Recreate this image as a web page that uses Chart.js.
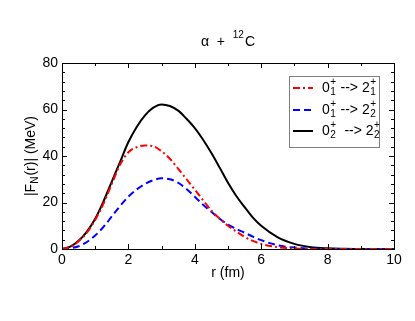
<!DOCTYPE html>
<html>
<head>
<meta charset="utf-8">
<script src="https://cdn.jsdelivr.net/npm/chart.js@4.4.1/dist/chart.umd.min.js"></script>
<style>
  html, body { margin: 0; padding: 0; background: #fff; }
  #wrap { width: 415px; height: 321px; }
</style>
</head>
<body>
<div id="wrap"><canvas id="chart" width="415" height="321"></canvas></div>
<script>
// r grid (fm) and |F_N(r)| values (MeV)
const rValues = [0, 0.25, 0.5, 0.75, 1, 1.25, 1.5, 1.75, 2, 2.25, 2.5, 2.75, 3, 3.25, 3.5, 3.75,
  4, 4.25, 4.5, 4.75, 5, 5.25, 5.5, 5.75, 6, 6.5, 7, 7.5, 8, 8.5, 9, 9.5, 10];
const f01to21 = [0, 0.9, 3.3, 7, 12.5, 19.5, 28, 36.3, 41.6, 43.8, 44.5, 44.2, 42, 38.8, 34.5, 30,
  25.5, 21, 16.5, 13, 10, 7.5, 5.2, 3.5, 2.2, 0.8, 0.2, 0, 0, 0, 0, 0, 0];
const f01to22 = [0, 0.3, 1.2, 3, 5.8, 9.5, 14, 18.5, 22.5, 25.6, 28, 29.6, 30.4, 30, 28.5, 25.8,
  22.5, 19, 16, 13, 10.5, 8.6, 7, 5.3, 3.8, 1.6, 0.6, 0.2, 0, 0, 0, 0, 0];
const f02to22 = [0, 1, 3.5, 7.5, 13, 20.5, 29, 37.5, 46, 52.5, 57.5, 60.8, 62.2, 61.5, 59.5, 56,
  52, 47, 41.3, 35, 28.5, 22.8, 18, 13.5, 10, 5, 2.2, 0.8, 0.3, 0.1, 0, 0, 0];

const xTicks = [0, 2, 4, 6, 8, 10];
const yTicks = [0, 20, 40, 60, 80];

const FONT = "'Liberation Sans', Arial, Helvetica, sans-serif";

const toPts = (ys) => rValues.map((r, i) => ({ x: r, y: ys[i] }));

const series = [
  { name: ["0", "1", "2", "1"], data: f01to21, color: "#ff0000", dash: [7, 3, 2, 3] },
  { name: ["0", "1", "2", "2"], data: f01to22, color: "#0000ff", dash: [7, 4] },
  { name: ["0", "2", "2", "2"], data: f02to22, color: "#000000", dash: [] },
];

// draws text with sub/superscripts, returns width
function drawScript(ctx, x, y, parts, size, dry) {
  let cx = x;
  const small = `${Math.round(size * 0.72)}px ${FONT}`;
  const put = (s, px, py) => { if (!dry) ctx.fillText(s, px, py); };
  for (const p of parts) {
    if (p.t === "n") {
      ctx.font = `${size}px ${FONT}`;
      put(p.s, cx, y);
      cx += ctx.measureText(p.s).width;
    } else if (p.t === "ss") {
      ctx.font = small;
      put(p.sup, cx + 0.5, y - size * 0.42);
      put(p.sub, cx + 0.5, y + size * 0.3);
      cx += Math.max(ctx.measureText(p.sup).width, ctx.measureText(p.sub).width) + 1;
    } else if (p.t === "sup") {
      ctx.font = small;
      put(p.s, cx, y - size * 0.45);
      cx += ctx.measureText(p.s).width + 1;
    } else if (p.t === "sub") {
      ctx.font = small;
      put(p.s, cx, y + size * 0.3);
      cx += ctx.measureText(p.s).width + 1;
    }
  }
  return cx - x;
}

const decor = {
  id: "decor",
  afterDraw(chart) {
    const { ctx, chartArea: a, scales: { x, y } } = chart;
    ctx.save();
    ctx.strokeStyle = "#000";
    ctx.lineWidth = 1;
    ctx.strokeRect(a.left + 0.5, a.top + 0.5, a.right - a.left, a.bottom - a.top);

    // inward ticks
    ctx.beginPath();
    for (let v = 0; v <= 10; v += 1) {
      const px = Math.round(x.getPixelForValue(v)) + 0.5;
      const len = v % 2 === 0 ? 5 : 3;
      ctx.moveTo(px, a.bottom); ctx.lineTo(px, a.bottom - len);
      ctx.moveTo(px, a.top); ctx.lineTo(px, a.top + len);
    }
    for (let v = 0; v <= 80; v += 4) {
      const py = Math.round(y.getPixelForValue(v)) + 0.5;
      const len = v % 20 === 0 ? 5 : 3;
      ctx.moveTo(a.left, py); ctx.lineTo(a.left + len, py);
      ctx.moveTo(a.right, py); ctx.lineTo(a.right - len, py);
    }
    ctx.stroke();

    ctx.fillStyle = "#000";
    ctx.textBaseline = "middle";
    ctx.textAlign = "left";

    // title
    const titleParts = [{ t: "n", s: "\u03b1  +  " }, { t: "sup", s: "12" }, { t: "n", s: "C" }];
    const tw = drawScript(ctx, 0, 0, titleParts, 14, true);
    drawScript(ctx, 228 - tw / 2, 42, titleParts, 14);

    // x title
    ctx.font = `14px ${FONT}`;
    ctx.textAlign = "center";
    ctx.fillText("r (fm)", (a.left + a.right) / 2, 273);

    // y title (rotated)
    ctx.save();
    ctx.translate(31, (a.top + a.bottom) / 2);
    ctx.rotate(-Math.PI / 2);
    ctx.textAlign = "left";
    const yParts = [{ t: "n", s: "|F" }, { t: "sub", s: "N" }, { t: "n", s: "(r)| (MeV)" }];
    const yw = drawScript(ctx, 0, 0, yParts, 14, true);
    drawScript(ctx, -yw / 2, 0, yParts, 14);
    ctx.restore();

    // legend
    ctx.strokeStyle = "#7f7f7f";
    ctx.lineWidth = 1;
    ctx.strokeRect(289.5, 76.5, 90, 71);
    const rows = [88, 110, 131];
    series.forEach((s, i) => {
      const ry = rows[i];
      ctx.save();
      ctx.strokeStyle = s.color;
      ctx.lineWidth = 2;
      ctx.setLineDash(s.dash);
      ctx.beginPath();
      ctx.moveTo(293, ry); ctx.lineTo(313, ry);
      ctx.stroke();
      ctx.restore();
      ctx.textAlign = "left";
      const gap = i === 2 ? " " : "";
      drawScript(ctx, 322, ry, [
        { t: "n", s: s.name[0] }, { t: "ss", sup: "+", sub: s.name[1] },
        { t: "n", s: gap + " --> " + s.name[2] }, { t: "ss", sup: "+", sub: s.name[3] },
      ], 14);
    });
    ctx.restore();
  },
};

new Chart(document.getElementById("chart").getContext("2d"), {
  type: "scatter",
  data: {
    datasets: series.map((s) => ({
      data: toPts(s.data),
      showLine: true,
      borderColor: s.color,
      borderWidth: 2,
      borderDash: s.dash,
      pointRadius: 0,
      cubicInterpolationMode: "monotone",
      fill: false,
    })),
  },
  options: {
    responsive: false,
    animation: false,
    events: [],
    layout: { padding: { top: 63, right: 21, left: 0, bottom: 0 } },
    plugins: { legend: { display: false }, tooltip: { enabled: false }, title: { display: false } },
    scales: {
      x: {
        type: "linear", min: 0, max: 10,
        afterBuildTicks: (s) => { s.ticks = xTicks.map((v) => ({ value: v })); },
        afterFit: (s) => { s.height = 72; },
        grid: { display: false, drawTicks: false },
        border: { display: false },
        ticks: { color: "#000", font: { family: FONT, size: 14 }, padding: 3, maxRotation: 0 },
      },
      y: {
        type: "linear", min: 0, max: 80,
        afterBuildTicks: (s) => { s.ticks = yTicks.map((v) => ({ value: v })); },
        afterFit: (s) => { s.width = 62; },
        grid: { display: false, drawTicks: false },
        border: { display: false },
        ticks: { color: "#000", font: { family: FONT, size: 14 }, padding: 4 },
      },
    },
  },
  plugins: [decor],
});
</script>
</body>
</html>
